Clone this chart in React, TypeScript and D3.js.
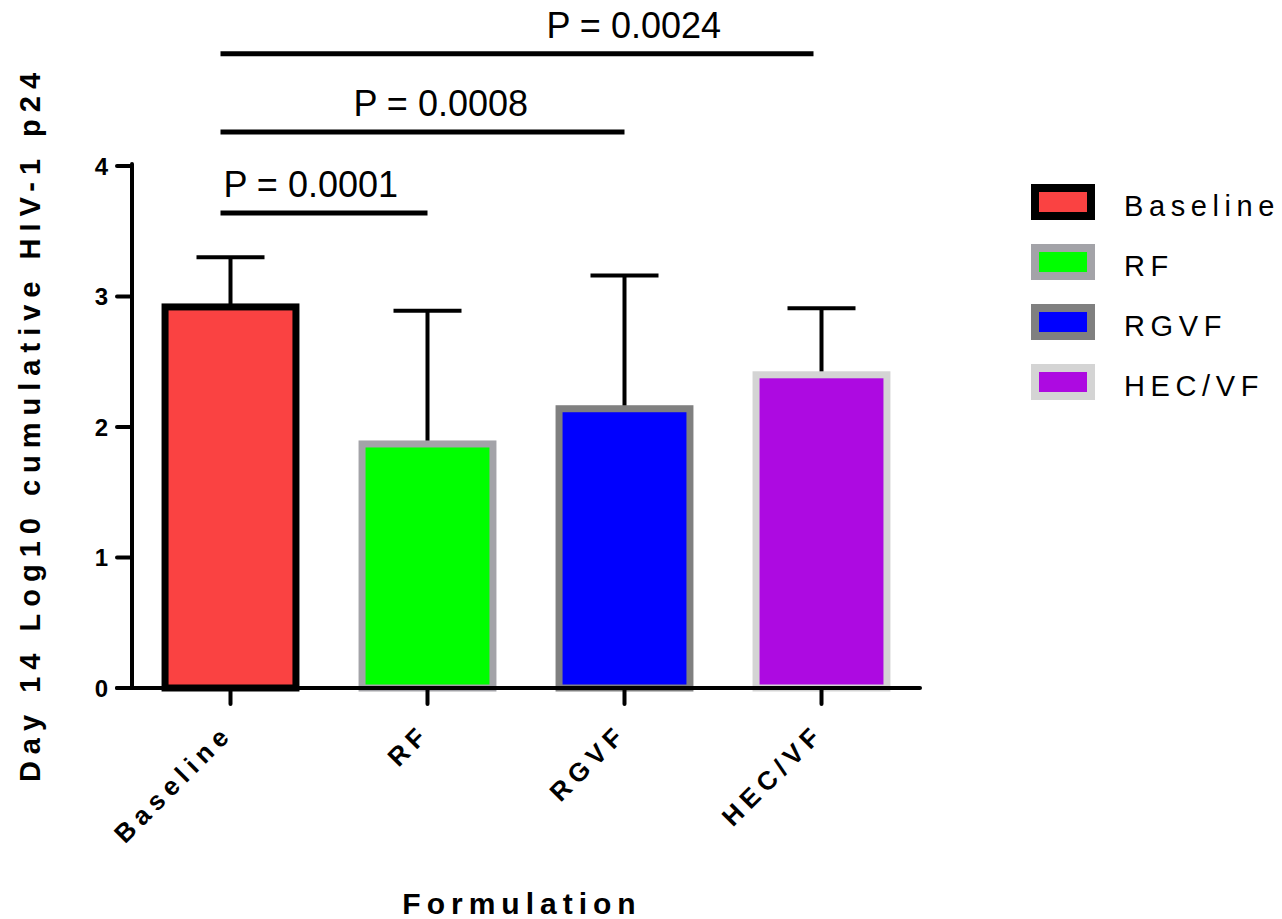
import React from "react";
import * as d3 from "d3";

const categories = ["Baseline", "RF", "RGVF", "HEC/VF"];
const means = [2.92, 1.87, 2.14, 2.4];
const sdUpper = [0.38, 1.02, 1.02, 0.51];
const yTicks = [0, 1, 2, 3, 4];
const fills = ["#fa4242", "#00ff00", "#0000ff", "#ad0ae1"];
const borders = ["#000000", "#a3a3a8", "#808080", "#d4d4d4"];
const compareTo = [1, 2, 3];
const pLabels = ["P = 0.0001", "P = 0.0008", "P = 0.0024"];
const pLevels = [3.64, 4.26, 4.86];

const W = 1282;
const H = 919;
const left = 132;
const right = 920;
const top = 166;
const bottom = 688;

const App = () => {
  const x = d3
    .scaleBand<string>()
    .domain(categories)
    .range([left, right])
    .paddingInner(0.3)
    .paddingOuter(0.15);
  const y = d3.scaleLinear().domain([0, 4]).range([bottom, top]);
  const bw = x.bandwidth();
  const cx = (c: string) => (x(c) as number) + bw / 2;
  // text offsets of the p labels relative to the bracket start
  const pTextX = [3, 133, 326];

  return (
    <svg
      width={W}
      height={H}
      style={{ position: "absolute", left: 0, top: 0, background: "#fff" }}
      fontFamily="Arial, 'Liberation Sans', sans-serif"
    >
      {/* error bars, drawn below the bars */}
      {categories.map((c, i) => (
        <g key={"e" + c} stroke="#000" strokeWidth={4}>
          <line x1={cx(c)} x2={cx(c)} y1={y(means[i])} y2={y(means[i] + sdUpper[i])} />
          <line
            x1={cx(c) - 34}
            x2={cx(c) + 34}
            y1={y(means[i] + sdUpper[i])}
            y2={y(means[i] + sdUpper[i])}
          />
        </g>
      ))}
      {categories.map((c, i) => (
        <rect
          key={"b" + c}
          x={(x(c) as number) + 3.5}
          y={y(means[i])}
          width={bw - 7}
          height={y(0) - y(means[i])}
          fill={fills[i]}
          stroke={borders[i]}
          strokeWidth={7}
        />
      ))}

      {/* axes */}
      <g stroke="#000" strokeWidth={4} strokeLinecap="round">
        <line x1={left} x2={left} y1={top - 2} y2={bottom} />
        <line x1={left - 15} x2={right} y1={bottom} y2={bottom} />
        {yTicks.map((t) => (
          <line key={"yt" + t} x1={left - 15} x2={left} y1={y(t)} y2={y(t)} />
        ))}
        {categories.map((c) => (
          <line key={"xt" + c} x1={cx(c)} x2={cx(c)} y1={bottom} y2={bottom + 16} />
        ))}
      </g>
      {yTicks.map((t) => (
        <text
          key={"yl" + t}
          x={left - 24}
          y={y(t) + 8.5}
          textAnchor="end"
          fontSize={24}
          fontWeight="bold"
        >
          {t}
        </text>
      ))}
      {categories.map((c) => (
        <text
          key={"xl" + c}
          transform={`translate(${cx(c) + 4},${bottom + 47}) rotate(-45)`}
          textAnchor="end"
          fontSize={26}
          fontWeight="bold"
          letterSpacing={6}
        >
          {c}
        </text>
      ))}

      {/* axis titles */}
      <text
        transform={`translate(40,${(63 + 785) / 2}) rotate(-90)`}
        textAnchor="middle"
        fontSize={29}
        fontWeight="bold"
        letterSpacing={7}
      >
        Day 14 Log10 cumulative HIV-1 p24
      </text>
      <text
        x={522}
        y={914}
        textAnchor="middle"
        fontSize={30}
        fontWeight="bold"
        letterSpacing={6}
      >
        Formulation
      </text>

      {/* significance brackets */}
      {compareTo.map((k, i) => {
        const x0 = cx(categories[0]) - 10;
        const x1 = cx(categories[k]) + (k === 3 ? -8 : 0);
        const ly = y(pLevels[i]);
        return (
          <g key={"p" + k}>
            <line x1={x0} x2={x1} y1={ly} y2={ly} stroke="#000" strokeWidth={5} />
            <text x={x0 + pTextX[i]} y={ly - 16} fontSize={36}>
              {pLabels[i]}
            </text>
          </g>
        );
      })}

      {/* legend */}
      {categories.map((c, i) => (
        <g key={"lg" + c} transform={`translate(1035,${188 + i * 60})`}>
          <rect width={56} height={28} fill={fills[i]} stroke={borders[i]} strokeWidth={8} />
          <text x={89} y={28} fontSize={29} letterSpacing={5.6}>
            {c}
          </text>
        </g>
      ))}
    </svg>
  );
};

export default App;
